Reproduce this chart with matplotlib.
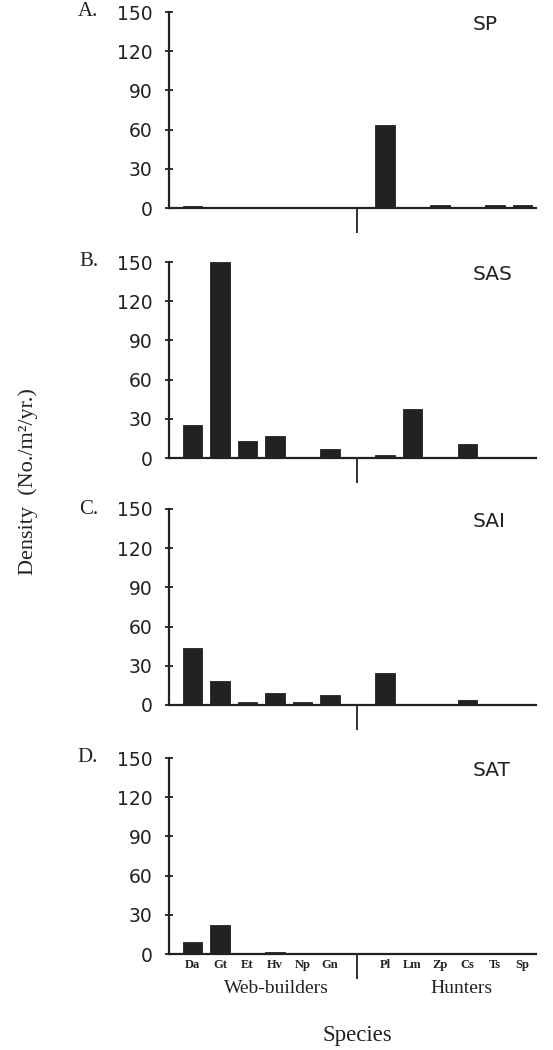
import matplotlib
matplotlib.use("Agg")
import matplotlib.pyplot as plt
import numpy as np

species = ["Da", "Gt", "Et", "Hv", "Np", "Gn", "Pl", "Lm", "Zp", "Cs", "Ts", "Sp"]
panel_letters = ["A.", "B.", "C.", "D."]
panel_titles = ["SP", "SAS", "SAI", "SAT"]
yticks = [0, 30, 60, 90, 120, 150]

sp_vals = [1.8, 0, 0, 0.5, 0, 0, 63.5, 0, 2.0, 0, 2.5, 2.5]
sas_vals = [25.5, 150, 13.3, 16.5, 0.5, 7.1, 2.0, 37.5, 0, 10.7, 0, 0.8]
sai_vals = [43.4, 18.6, 2.5, 9.0, 2.0, 7.7, 24.7, 0.5, 0, 4.2, 0, 0]
sat_vals = [9.0, 22.0, 1.0, 1.5, 1.0, 0.5, 1.0, 0, 0, 0.8, 0, 0]
all_vals = [sp_vals, sas_vals, sai_vals, sat_vals]

group_labels = ["Web-builders", "Hunters"]

W, H = 553, 1050
fig = plt.figure(figsize=(W / 100, H / 100), dpi=100)

# x positions: web-builders 0..5, hunters 7..12, divider at 6
xpos = np.array(list(range(6)) + list(range(7, 13)))
divider = 6

left = 169 / W
width = 367 / W
height = 196 / H
bottoms_px = [208, 458, 705, 954]

sans = "DejaVu Sans"
serif = "Liberation Serif"
ink = "#222222"

for i, (vals, letter, title, bpx) in enumerate(zip(all_vals, panel_letters, panel_titles, bottoms_px)):
    ax = fig.add_axes([left, 1 - bpx / H, width, height])
    ax.bar(xpos, vals, width=0.71, color=ink, edgecolor=ink, linewidth=0.6)
    ax.set_xlim(-0.86, 12.5)
    ax.set_ylim(0, 150)
    ax.set_yticks(yticks)
    ax.set_yticklabels([str(t) for t in yticks], fontfamily=sans, fontsize=13.5, color=ink)
    ax.tick_params(axis="y", direction="inout", length=6, width=1.3, pad=9, colors=ink)
    ax.set_xticks([divider])
    ax.tick_params(axis="x", direction="out", length=18, width=1.3, colors=ink)
    ax.set_xticklabels([""])
    for s in ["top", "right"]:
        ax.spines[s].set_visible(False)
    for s in ["left", "bottom"]:
        ax.spines[s].set_linewidth(1.6)
        ax.spines[s].set_color(ink)
    ax.text(0.828, 0.934, title, transform=ax.transAxes, fontfamily=sans,
            fontsize=14.5, ha="left", va="center", color=ink)
    fig.text(98 / W, 1 - (bpx - 196) / H, letter, fontfamily=serif, fontsize=15,
             ha="right", va="center", color=ink)
    if i == 3:
        for x, name in zip(xpos, species):
            ax.text(x, -0.055, name, transform=ax.get_xaxis_transform(), fontfamily=serif,
                    fontsize=9, fontweight="bold", ha="center", va="center", color=ink)
        ax.text(3.05, -0.175, group_labels[0], transform=ax.get_xaxis_transform(),
                fontfamily=serif, fontsize=14, ha="center", va="center", color=ink)
        ax.text(9.8, -0.175, group_labels[1], transform=ax.get_xaxis_transform(),
                fontfamily=serif, fontsize=14, ha="center", va="center", color=ink)

fig.text(357 / W, 1 - 1035 / H, "Species", fontfamily=serif, fontsize=16.5,
         ha="center", va="center", color=ink)
fig.text(28 / W, 1 - 482 / H, "Density  (No./m²/yr.)", fontfamily=serif, fontsize=16,
         ha="center", va="center", rotation=90, color=ink)

fig.savefig("out.png", dpi=100)
